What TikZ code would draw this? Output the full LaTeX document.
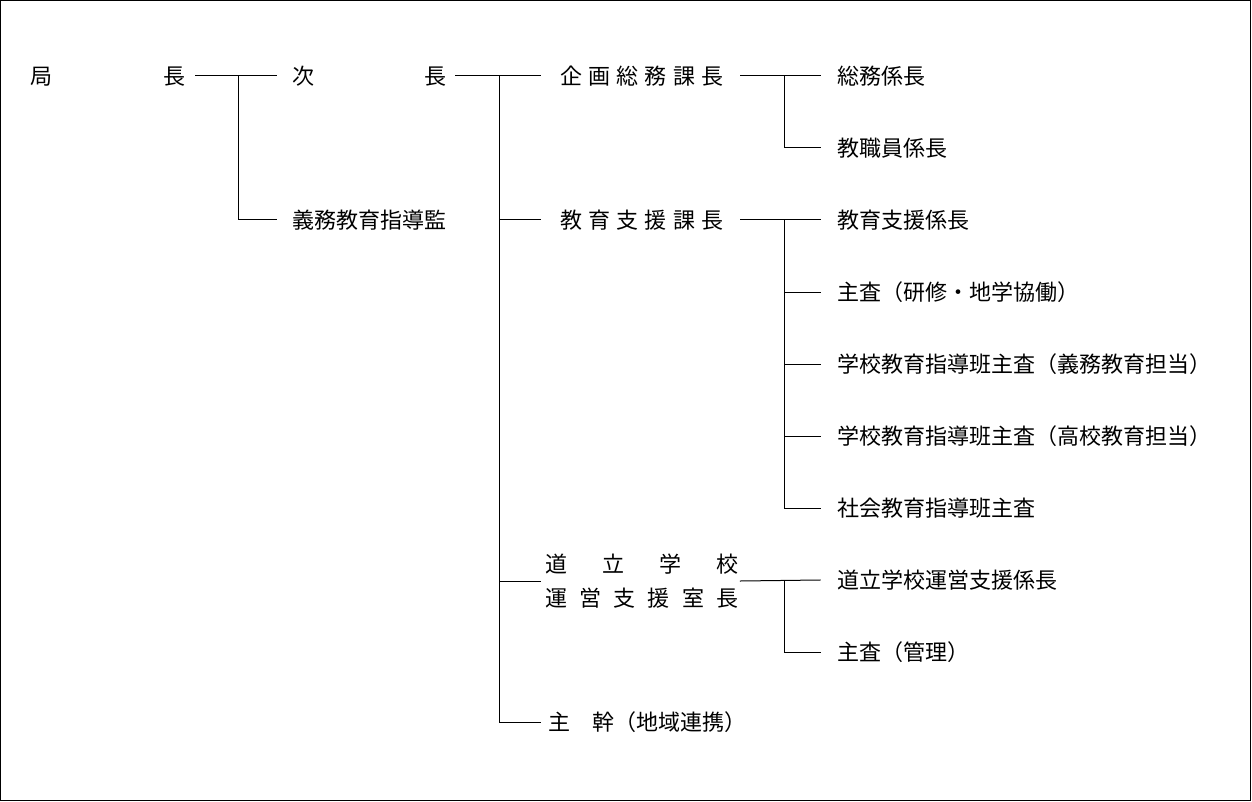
\documentclass[tikz,border=0pt]{standalone}
\usepackage{fontspec}
\newfontfamily\jpfont{Noto Sans CJK JP}
\newcommand\jspread[2]{\makebox[#1][s]{#2}}
\newcommand\jstrut{\rule[-2.6pt]{0pt}{22pt}}
\begin{document}
\begin{tikzpicture}[x=1pt,y=-1pt,
  lbl/.style={anchor=west,inner sep=0pt,font=\jpfont\fontsize{22}{26}\selectfont,text height=19.4pt,text depth=2.6pt},
  lbltwo/.style={anchor=west,inner sep=0pt,align=left,font=\jpfont\fontsize{22}{34}\selectfont},
  conn/.style={line width=1pt,line cap=rect}]
\useasboundingbox (0,0) rectangle (1252,802);
\draw[line width=1pt] (0.5,0.5) rectangle (1250.5,800.5);

% level 0-1
\node[lbl] (kyoku) at (30,76) {\jspread{155pt}{局\hfill{}長}};
\node[lbl] (jicho) at (292,76) {\jspread{154pt}{次\hfill{}長}};
\node[lbl] (gimu) at (292,220) {義務教育指導監};

% level 2
\node[lbl] (kikaku) at (560,76) {\jspread{163pt}{企\hfill{}画\hfill{}総\hfill{}務\hfill{}課\hfill{}長}};
\node[lbl] (kyoiku) at (560,220) {\jspread{163pt}{教\hfill{}育\hfill{}支\hfill{}援\hfill{}課\hfill{}長}};
\node[lbltwo] (dori) at (545,581) {\jstrut\jspread{193pt}{道\hfill{}立\hfill{}学\hfill{}校}\\\jstrut\jspread{193pt}{運\hfill{}営\hfill{}支\hfill{}援\hfill{}室\hfill{}長}};
\node[lbl] (shukan) at (548,722) {主　幹（地域連携）};

% level 3
\node[lbl] (somu) at (837,76) {総務係長};
\node[lbl] (kyoshoku) at (837,148) {教職員係長};
\node[lbl] (shien) at (837,220) {教育支援係長};
\node[lbl] (shusa1) at (837,292) {主査（研修・地学協働）};
\node[lbl] (gakko1) at (837,364) {学校教育指導班主査（義務教育担当）};
\node[lbl] (gakko2) at (837,436) {学校教育指導班主査（高校教育担当）};
\node[lbl] (shakai) at (837,508) {社会教育指導班主査};
\node[lbl] (doriK) at (837,580) {道立学校運営支援係長};
\node[lbl] (shusa2) at (837,652) {主査（管理）};

% connectors
\coordinate (j1) at (238,76);
\coordinate (j2) at (499,76);
\coordinate (j3) at (784,76);
\coordinate (j4) at (784,220);
\coordinate (j5) at (784,580);

\draw[conn] ([xshift=10pt]kyoku.east) -- ([xshift=-16pt]jicho.west);
\draw[conn] (j1) |- ([xshift=-16pt]gimu.west);

\draw[conn] ([xshift=9pt]jicho.east) -- ([xshift=-20pt]kikaku.west);
\draw[conn] (j2) |- ([xshift=-20pt]kyoiku.west);
\draw[conn] (j2) |- ([xshift=-5pt]dori.west);
\draw[conn] (j2) |- ([xshift=-8pt]shukan.west);

\draw[conn] ([xshift=17pt]kikaku.east) -- ([xshift=-17pt]somu.west);
\draw[conn] (j3) |- ([xshift=-17pt]kyoshoku.west);

\draw[conn] ([xshift=17pt]kyoiku.east) -- ([xshift=-17pt]shien.west);
\draw[conn] (j4) |- ([xshift=-17pt]shusa1.west);
\draw[conn] (j4) |- ([xshift=-17pt]gakko1.west);
\draw[conn] (j4) |- ([xshift=-17pt]gakko2.west);
\draw[conn] (j4) |- ([xshift=-17pt]shakai.west);

\draw[conn] ([xshift=2pt]dori.east) -- ([xshift=-17pt]doriK.west);
\draw[conn] (j5) |- ([xshift=-17pt]shusa2.west);
\end{tikzpicture}
\end{document}
